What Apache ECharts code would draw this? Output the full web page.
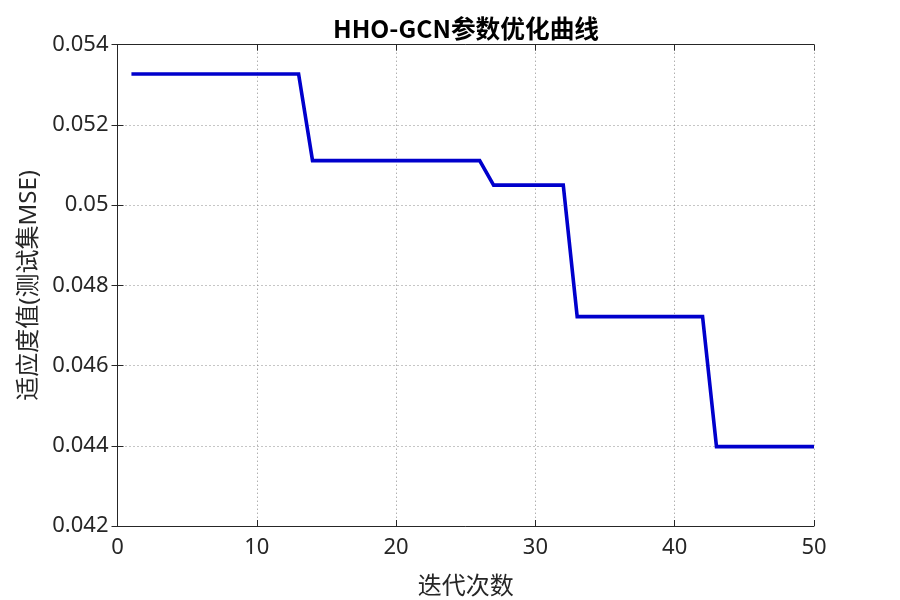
<!DOCTYPE html>
<html>
<head>
<meta charset="utf-8">
<script src="https://cdn.jsdelivr.net/npm/echarts@6/dist/echarts.min.js"></script>
<style>html,body{margin:0;padding:0;background:#fff;}#c{width:900px;height:600px;}</style>
</head>
<body>
<div id="c"></div>
<script>
const iterations = [1,2,3,4,5,6,7,8,9,10,11,12,13,14,15,16,17,18,19,20,21,22,23,24,25,26,27,28,29,30,31,32,33,34,35,36,37,38,39,40,41,42,43,44,45,46,47,48,49,50];
const fitness = [
  0.05327,0.05327,0.05327,0.05327,0.05327,0.05327,0.05327,0.05327,0.05327,0.05327,0.05327,0.05327,0.05327,
  0.05111,0.05111,0.05111,0.05111,0.05111,0.05111,0.05111,0.05111,0.05111,0.05111,0.05111,0.05111,0.05111,
  0.05050,0.05050,0.05050,0.05050,0.05050,0.05050,
  0.04722,0.04722,0.04722,0.04722,0.04722,0.04722,0.04722,0.04722,0.04722,0.04722,
  0.04398,0.04398,0.04398,0.04398,0.04398,0.04398,0.04398,0.04398
];
const xTicks = [0,10,20,30,40,50];
const yTicks = ['0.042','0.044','0.046','0.048','0.05','0.052','0.054'];
const titleText = 'HHO-GCN参数优化曲线';
const xName = '迭代次数';
const yName = '适应度值(测试集MSE)';

const FONT = '"Noto Sans", "Noto Sans CJK SC", sans-serif';
const TFONT = '"Noto Sans CJK SC", "Noto Sans", sans-serif';
const AX = '#262626';
const chart = echarts.init(document.getElementById('c'), null, {renderer:'canvas'});
const axisCommon = {
  axisLine:{show:true, lineStyle:{color:AX, width:1}},
  axisTick:{show:true, inside:true, length:6, lineStyle:{color:AX}},
};
const gridLine = {show:true, lineStyle:{color:'#8c8c8c', type:[1,3], width:1}};
chart.setOption({
  animation:false,
  backgroundColor:'#fff',
  title:{text:titleText, left:461, top:11, textAlign:'center',
    textStyle:{fontFamily:TFONT, fontSize:24.7, fontWeight:'bold', color:'#000'}},
  grid:{left:117.5, right:86, top:44.7, bottom:74, containLabel:false, outerBoundsMode:'none'},
  xAxis:[
    Object.assign({type:'value', min:xTicks[0], max:xTicks[xTicks.length-1], interval:10,
      name:xName, nameLocation:'middle', nameGap:49,
      nameTextStyle:{fontFamily:FONT, fontSize:24, color:AX},
      axisLabel:{fontFamily:FONT, fontSize:22, color:AX, margin:11},
      splitLine:gridLine}, axisCommon),
    Object.assign({type:'value', position:'top', min:0, max:50, interval:10,
      axisLabel:{show:false}, splitLine:{show:false}}, axisCommon)
  ],
  yAxis:[
    Object.assign({type:'value', min:0.042, max:0.054, interval:0.002,
      name:yName, nameLocation:'middle', nameGap:75,
      nameTextStyle:{fontFamily:FONT, fontSize:24, color:AX},
      axisLabel:{fontFamily:FONT, fontSize:22, color:AX, margin:9,
        formatter:function(v){ const i = Math.round((v-0.042)/0.002); return yTicks[i] || ''; }},
      splitLine:gridLine}, axisCommon),
    Object.assign({type:'value', position:'right', min:0.042, max:0.054, interval:0.002,
      axisLabel:{show:false}, splitLine:{show:false}}, axisCommon)
  ],
  series:[{
    type:'line', xAxisIndex:0, yAxisIndex:0,
    data: iterations.map((x,i)=>[x, fitness[i]]),
    showSymbol:false, symbol:'none',
    lineStyle:{color:'#0000CC', width:3.6, join:'miter'},
    itemStyle:{color:'#0000CC'}
  }]
});
</script>
</body>
</html>
